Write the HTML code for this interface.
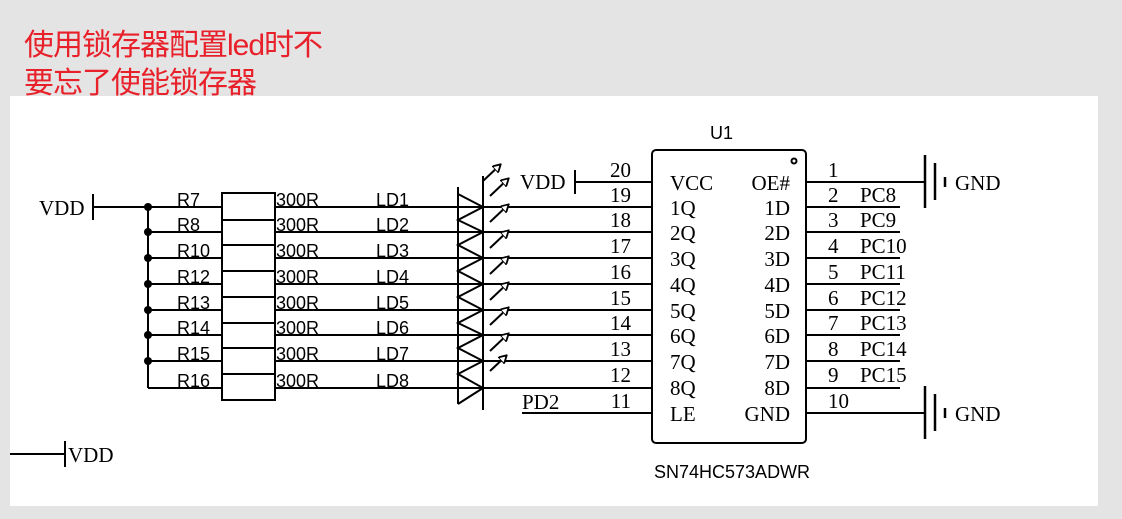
<!DOCTYPE html>
<html><head><meta charset="utf-8"><style>
body{margin:0;background:#e4e4e4;width:1122px;height:519px;overflow:hidden;position:relative}
.t{position:absolute;left:24px;color:#e8202a;font:30px "Liberation Sans","Noto Sans CJK SC",sans-serif;letter-spacing:-1px}
svg{position:absolute;left:0;top:0}
</style></head><body>
<div class="t" style="top:20px">使用锁存器配置led时不</div>
<div class="t" style="top:58px">要忘了使能锁存器</div>
<svg width="1122" height="519" xmlns="http://www.w3.org/2000/svg">
<defs><marker id="ah" markerWidth="9" markerHeight="9" refX="7" refY="4.5" orient="auto" markerUnits="userSpaceOnUse"><path d="M0,0 L8,4.5 L0,9 Z" fill="#fff" stroke="#000" stroke-width="1.8"/></marker></defs>
<rect x="10" y="96" width="1088" height="410" fill="#fff"/>
<g stroke="#000" stroke-width="2" fill="none">
<line x1="93" y1="194" x2="93" y2="220"/><line x1="93" y1="207" x2="148" y2="207"/>
<line x1="148" y1="207" x2="148" y2="388"/>
<rect x="222" y="193" width="53" height="207"/>
<line x1="222" y1="220" x2="275" y2="220"/><line x1="222" y1="245" x2="275" y2="245"/><line x1="222" y1="271" x2="275" y2="271"/><line x1="222" y1="297" x2="275" y2="297"/><line x1="222" y1="323" x2="275" y2="323"/><line x1="222" y1="348" x2="275" y2="348"/><line x1="222" y1="374" x2="275" y2="374"/>
<line x1="148" y1="207" x2="222" y2="207"/><line x1="275" y1="207" x2="652" y2="207"/>
<line x1="148" y1="232" x2="222" y2="232"/><line x1="275" y1="232" x2="652" y2="232"/>
<line x1="148" y1="258" x2="222" y2="258"/><line x1="275" y1="258" x2="652" y2="258"/>
<line x1="148" y1="284" x2="222" y2="284"/><line x1="275" y1="284" x2="652" y2="284"/>
<line x1="148" y1="310" x2="222" y2="310"/><line x1="275" y1="310" x2="652" y2="310"/>
<line x1="148" y1="335" x2="222" y2="335"/><line x1="275" y1="335" x2="652" y2="335"/>
<line x1="148" y1="361" x2="222" y2="361"/><line x1="275" y1="361" x2="652" y2="361"/>
<line x1="148" y1="388" x2="222" y2="388"/><line x1="275" y1="388" x2="652" y2="388"/>
<line x1="458" y1="187" x2="458" y2="404"/>
<line x1="483" y1="176" x2="483" y2="410"/>
<path d="M458,194 L483,207 L458,220 L483,232 L458,245 L483,258 L458,271 L483,284 L458,297 L483,310 L458,323 L483,335 L458,348 L483,361 L458,374 L483,388 L458,404"/>
<line x1="458" y1="187" x2="458" y2="194"/>
<line x1="483" y1="181" x2="500" y2="165" marker-end="url(#ah)"/>
<line x1="490" y1="196" x2="508" y2="179" marker-end="url(#ah)"/>
<line x1="490" y1="222" x2="508" y2="205" marker-end="url(#ah)"/>
<line x1="490" y1="248" x2="508" y2="231" marker-end="url(#ah)"/>
<line x1="490" y1="274" x2="508" y2="257" marker-end="url(#ah)"/>
<line x1="490" y1="300" x2="508" y2="283" marker-end="url(#ah)"/>
<line x1="490" y1="325" x2="508" y2="308" marker-end="url(#ah)"/>
<line x1="490" y1="351" x2="508" y2="334" marker-end="url(#ah)"/>
<line x1="490" y1="371" x2="506" y2="356" marker-end="url(#ah)"/>
<line x1="575" y1="170" x2="575" y2="194"/><line x1="575" y1="182" x2="652" y2="182"/>
<line x1="522" y1="413" x2="652" y2="413"/>
<rect x="652" y="150" width="154" height="293" rx="4"/>
<circle cx="794" cy="161" r="2.5"/>
<line x1="806" y1="182" x2="925" y2="182"/>
<line x1="925" y1="155" x2="925" y2="208" stroke-width="2.5"/><line x1="935" y1="163" x2="935" y2="200" stroke-width="2.5"/><line x1="945" y1="177" x2="945" y2="187" stroke-width="2.5"/>
<line x1="806" y1="413" x2="925" y2="413"/>
<line x1="925" y1="386" x2="925" y2="439" stroke-width="2.5"/><line x1="935" y1="394" x2="935" y2="431" stroke-width="2.5"/><line x1="945" y1="408" x2="945" y2="418" stroke-width="2.5"/>
<line x1="806" y1="207" x2="900" y2="207"/><line x1="806" y1="232" x2="900" y2="232"/><line x1="806" y1="258" x2="900" y2="258"/><line x1="806" y1="284" x2="900" y2="284"/><line x1="806" y1="310" x2="900" y2="310"/><line x1="806" y1="335" x2="900" y2="335"/><line x1="806" y1="361" x2="900" y2="361"/><line x1="806" y1="388" x2="900" y2="388"/>
<line x1="10" y1="454" x2="65" y2="454"/><line x1="65" y1="441" x2="65" y2="467"/>
</g>
<g fill="#000"><circle cx="148" cy="207" r="4"/><circle cx="148" cy="232" r="4"/><circle cx="148" cy="258" r="4"/><circle cx="148" cy="284" r="4"/><circle cx="148" cy="310" r="4"/><circle cx="148" cy="335" r="4"/><circle cx="148" cy="361" r="4"/></g>
<g font-family="Liberation Sans, sans-serif" font-size="18" fill="#000">
<text x="177" y="206">R7</text><text x="177" y="231">R8</text><text x="177" y="257">R10</text><text x="177" y="283">R12</text><text x="177" y="309">R13</text><text x="177" y="334">R14</text><text x="177" y="360">R15</text><text x="177" y="387">R16</text>
<text x="276" y="206">300R</text><text x="276" y="231">300R</text><text x="276" y="257">300R</text><text x="276" y="283">300R</text><text x="276" y="309">300R</text><text x="276" y="334">300R</text><text x="276" y="360">300R</text><text x="276" y="387">300R</text>
<text x="376" y="206">LD1</text><text x="376" y="231">LD2</text><text x="376" y="257">LD3</text><text x="376" y="283">LD4</text><text x="376" y="309">LD5</text><text x="376" y="334">LD6</text><text x="376" y="360">LD7</text><text x="376" y="387">LD8</text>
<text x="710" y="139">U1</text>
<text x="654" y="478">SN74HC573ADWR</text>
</g>
<g font-family="Liberation Serif, serif" font-size="21" fill="#000">
<text x="39" y="215">VDD</text><text x="520" y="189">VDD</text><text x="68" y="462">VDD</text>
<text x="522" y="409">PD2</text>
<g text-anchor="end"><text x="631" y="177">20</text><text x="631" y="202">19</text><text x="631" y="227">18</text><text x="631" y="253">17</text><text x="631" y="279">16</text><text x="631" y="305">15</text><text x="631" y="330">14</text><text x="631" y="356">13</text><text x="631" y="382">12</text><text x="631" y="408">11</text></g>
<text x="670" y="190">VCC</text><text x="670" y="215">1Q</text><text x="670" y="240">2Q</text><text x="670" y="266">3Q</text><text x="670" y="292">4Q</text><text x="670" y="318">5Q</text><text x="670" y="343">6Q</text><text x="670" y="369">7Q</text><text x="670" y="395">8Q</text><text x="670" y="421">LE</text>
<g text-anchor="end"><text x="790" y="190">OE#</text><text x="790" y="215">1D</text><text x="790" y="240">2D</text><text x="790" y="266">3D</text><text x="790" y="292">4D</text><text x="790" y="318">5D</text><text x="790" y="343">6D</text><text x="790" y="369">7D</text><text x="790" y="395">8D</text><text x="790" y="421">GND</text></g>
<text x="828" y="177">1</text><text x="828" y="202">2</text><text x="828" y="227">3</text><text x="828" y="253">4</text><text x="828" y="279">5</text><text x="828" y="305">6</text><text x="828" y="330">7</text><text x="828" y="356">8</text><text x="828" y="382">9</text><text x="828" y="408">10</text>
<text x="860" y="202">PC8</text><text x="860" y="227">PC9</text><text x="860" y="253">PC10</text><text x="860" y="279">PC11</text><text x="860" y="305">PC12</text><text x="860" y="330">PC13</text><text x="860" y="356">PC14</text><text x="860" y="382">PC15</text>
<text x="955" y="190">GND</text><text x="955" y="421">GND</text>
</g>
</svg>
</body></html>
